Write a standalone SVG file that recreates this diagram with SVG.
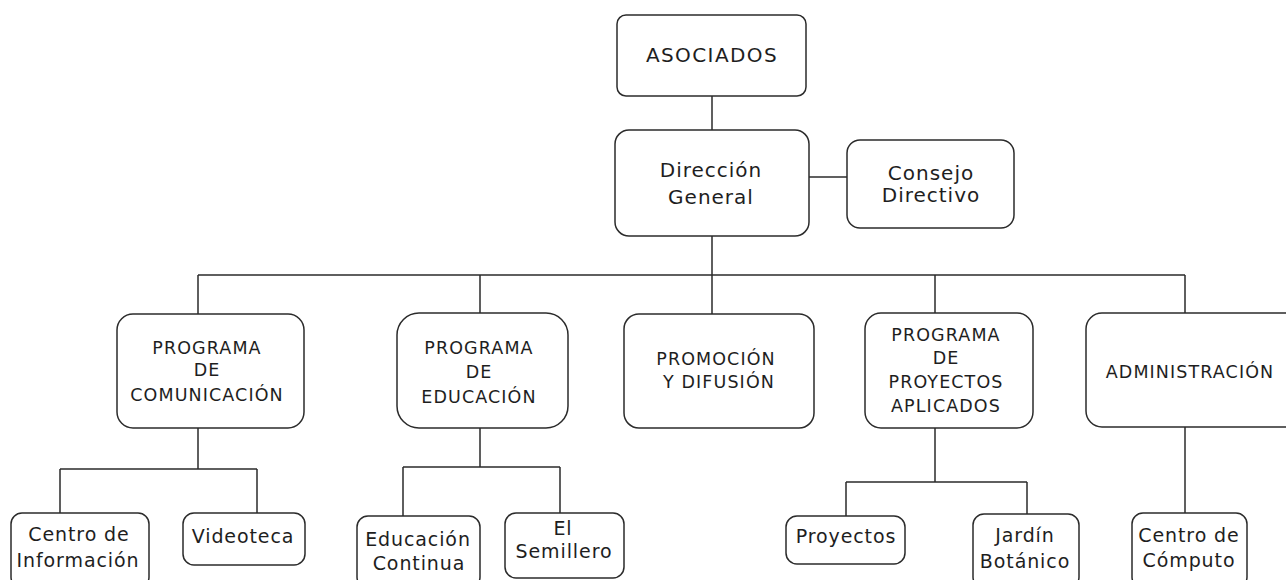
<svg xmlns="http://www.w3.org/2000/svg" width="1286" height="580" viewBox="0 0 1286 580">
<style>
.box{fill:#fff;stroke:#2b2b2b;stroke-width:1.5}
.ln{fill:none;stroke:#2b2b2b;stroke-width:1.5}
text{font-family:"DejaVu Sans","Liberation Sans",sans-serif;fill:#1e1e1e;text-anchor:middle}
.t1{font-size:20px;letter-spacing:1.4px}
.t1b{font-size:20px;letter-spacing:1px}
.t2{font-size:17.5px;letter-spacing:1.1px}
.t3{font-size:19px;letter-spacing:0.9px}
</style>
<rect width="1286" height="580" fill="#fff"/>
<g id="connectors">
<path class="ln" d="M712 96V130"/>
<path class="ln" d="M809 177H847"/>
<path class="ln" d="M712 236V275M198 275H1185M198 275V314M480 275V313M712 275V314M935 275V313M1185 275V313"/>
<path class="ln" d="M198 428V469M60 469H257M60 469V513M257 469V513"/>
<path class="ln" d="M480 428V467M403 467H560M403 467V516M560 467V513"/>
<path class="ln" d="M935 428V482M846 482H1027M846 482V516M1027 482V514"/>
<path class="ln" d="M1185 427V513"/>
</g>
<g id="asociados"><rect class="box" x="617" y="15" width="189" height="81" rx="9"/><text class="t1" x="712" y="62">ASOCIADOS</text></g>
<g id="direccion"><rect class="box" x="615" y="130" width="194" height="106" rx="14"/><text class="t1b" x="711" y="177">Dirección</text><text class="t1b" x="711" y="204">General</text></g>
<g id="consejo"><rect class="box" x="847" y="140" width="167" height="88" rx="13"/><text class="t1b" x="931" y="180">Consejo</text><text class="t1b" x="931" y="202">Directivo</text></g>
<g id="comunicacion"><rect class="box" x="117" y="314" width="187" height="114" rx="16"/><text class="t2" x="207" y="354">PROGRAMA</text><text class="t2" x="207" y="376">DE</text><text class="t2" x="207" y="401">COMUNICACIÓN</text></g>
<g id="educacion"><rect class="box" x="397" y="313" width="171" height="115" rx="22"/><text class="t2" x="479" y="354">PROGRAMA</text><text class="t2" x="479" y="378">DE</text><text class="t2" x="479" y="403">EDUCACIÓN</text></g>
<g id="promocion"><rect class="box" x="624" y="314" width="190" height="114" rx="15"/><text class="t2" x="716" y="365">PROMOCIÓN</text><text class="t2" x="719" y="388">Y DIFUSIÓN</text></g>
<g id="proyectos-aplicados"><rect class="box" x="865" y="313" width="168" height="115" rx="16"/><text class="t2" x="946" y="341">PROGRAMA</text><text class="t2" x="946" y="364">DE</text><text class="t2" x="946" y="388">PROYECTOS</text><text class="t2" x="946" y="412">APLICADOS</text></g>
<g id="administracion"><rect class="box" x="1086" y="313" width="214" height="114" rx="16"/><text class="t2" x="1190" y="378">ADMINISTRACIÓN</text></g>
<g id="centro-informacion"><rect class="box" x="11" y="513" width="138" height="75" rx="11"/><text class="t3" x="79" y="541">Centro de</text><text class="t3" x="78" y="567">Información</text></g>
<g id="videoteca"><rect class="box" x="183" y="513" width="122" height="52" rx="11"/><text class="t3" x="243" y="543">Videoteca</text></g>
<g id="educacion-continua"><rect class="box" x="357" y="516" width="123" height="72" rx="11"/><text class="t3" x="418" y="546">Educación</text><text class="t3" x="419" y="570">Continua</text></g>
<g id="semillero"><rect class="box" x="505" y="513" width="119" height="65" rx="11"/><text class="t3" x="563" y="535">El</text><text class="t3" x="564" y="558">Semillero</text></g>
<g id="proyectos"><rect class="box" x="786" y="516" width="119" height="48" rx="11"/><text class="t3" x="846" y="543">Proyectos</text></g>
<g id="jardin"><rect class="box" x="973" y="514" width="106" height="74" rx="11"/><text class="t3" x="1025" y="542">Jardín</text><text class="t3" x="1025" y="568">Botánico</text></g>
<g id="computo"><rect class="box" x="1132" y="513" width="115" height="75" rx="11"/><text class="t3" x="1189" y="542">Centro de</text><text class="t3" x="1189" y="567">Cómputo</text></g>
</svg>
